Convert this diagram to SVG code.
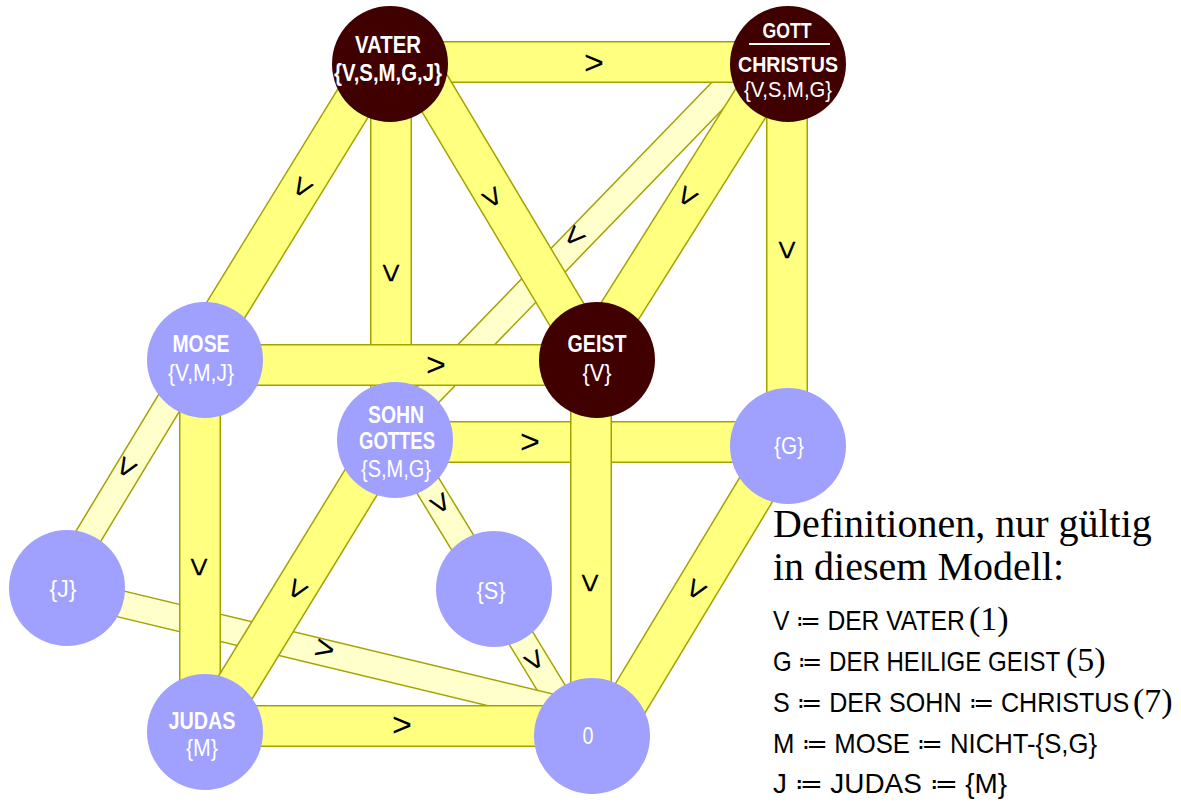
<svg xmlns="http://www.w3.org/2000/svg" width="1181" height="802" viewBox="0 0 1181 802">
<style>
.po{stroke:#a3a300;stroke-width:28;fill:none}
.pi{stroke:#ffffcc;stroke-width:25;fill:none}
.mo{stroke:#a3a300;stroke-width:42;fill:none}
.mi{stroke:#ffff80;stroke-width:39;fill:none}
.lbl{font-family:"Liberation Sans",Arial,sans-serif;font-size:34px;fill:#000;text-anchor:middle;dominant-baseline:central}
.dark{fill:#400000}
.light{fill:#a0a0ff}
.nt{font-family:"Liberation Sans",Arial,sans-serif;font-size:24px;fill:#fff;text-anchor:middle}
.sm{font-size:22px}
.b{font-weight:bold}
.ser{font-family:"Liberation Serif","Times New Roman",serif}
.mono{font-family:"Liberation Sans",Arial,sans-serif;font-size:28px}
.def{fill:#000}
</style>
<rect width="1181" height="802" fill="#fff"/>
<g id="connectors">
  <line class="po" x1="749" y1="63" x2="384" y2="440"/><line class="pi" x1="749" y1="63" x2="384" y2="440"/>
  <line class="po" x1="195" y1="360" x2="57" y2="588"/><line class="pi" x1="195" y1="360" x2="57" y2="588"/>
  <line class="po" x1="400" y1="440" x2="491" y2="589"/><line class="pi" x1="400" y1="440" x2="491" y2="589"/>
  <line class="po" x1="491" y1="589" x2="580" y2="735"/><line class="pi" x1="491" y1="589" x2="580" y2="735"/>
  <line class="po" x1="67" y1="591" x2="592" y2="717"/><line class="pi" x1="67" y1="591" x2="592" y2="717"/>
  <line class="mo" x1="391" y1="64" x2="391" y2="440"/><line class="mi" x1="391" y1="64" x2="391" y2="440"/>
  <line class="mo" x1="395" y1="442" x2="788" y2="442"/><line class="mi" x1="395" y1="442" x2="788" y2="442"/>
  <line class="mo" x1="390" y1="62" x2="788" y2="62"/><line class="mi" x1="390" y1="62" x2="788" y2="62"/>
  <line class="mo" x1="377" y1="64" x2="195" y2="360"/><line class="mi" x1="377" y1="64" x2="195" y2="360"/>
  <line class="mo" x1="417" y1="64" x2="594" y2="360"/><line class="mi" x1="417" y1="64" x2="594" y2="360"/>
  <line class="mo" x1="776" y1="63" x2="589" y2="360"/><line class="mi" x1="776" y1="63" x2="589" y2="360"/>
  <line class="mo" x1="787" y1="63" x2="787" y2="445"/><line class="mi" x1="787" y1="63" x2="787" y2="445"/>
  <line class="mo" x1="205" y1="365" x2="597" y2="365"/><line class="mi" x1="205" y1="365" x2="597" y2="365"/>
  <line class="mo" x1="200" y1="360" x2="200" y2="732"/><line class="mi" x1="200" y1="360" x2="200" y2="732"/>
  <line class="mo" x1="387" y1="440" x2="208" y2="732"/><line class="mi" x1="387" y1="440" x2="208" y2="732"/>
  <line class="mo" x1="591" y1="360" x2="591" y2="735"/><line class="mi" x1="591" y1="360" x2="591" y2="735"/>
  <line class="mo" x1="783" y1="445" x2="608" y2="735"/><line class="mi" x1="783" y1="445" x2="608" y2="735"/>
  <line class="mo" x1="205" y1="726" x2="592" y2="726"/><line class="mi" x1="205" y1="726" x2="592" y2="726"/>
  <text class="lbl" transform="translate(594,62)">&gt;</text>
  <text class="lbl" transform="translate(303,188) rotate(121.6)">&gt;</text>
  <text class="lbl" transform="translate(392,273) rotate(90)">&gt;</text>
  <text class="lbl" transform="translate(493,197) rotate(59.1)">&gt;</text>
  <text class="lbl" transform="translate(688,197) rotate(122.2)">&gt;</text>
  <text class="lbl" transform="translate(788,250) rotate(90)">&gt;</text>
  <text class="lbl" transform="translate(436,364)">&gt;</text>
  <text class="lbl" transform="translate(200,567) rotate(90)">&gt;</text>
  <text class="lbl" transform="translate(530,441)">&gt;</text>
  <text class="lbl" transform="translate(298,590) rotate(121.5)">&gt;</text>
  <text class="lbl" transform="translate(591,583) rotate(90)">&gt;</text>
  <text class="lbl" transform="translate(697,590) rotate(121.1)">&gt;</text>
  <text class="lbl" transform="translate(402,724)">&gt;</text>
  <text class="lbl" transform="translate(575,237) rotate(134.1)">&gt;</text>
  <text class="lbl" transform="translate(127,468) rotate(121.2)">&gt;</text>
  <text class="lbl" transform="translate(441,503) rotate(58.6)">&gt;</text>
  <text class="lbl" transform="translate(535,660) rotate(58.6)">&gt;</text>
  <text class="lbl" transform="translate(325,648) rotate(13.5)">&gt;</text>
</g>
<g id="vater">
  <circle class="dark" cx="390" cy="64" r="58"/>
  <text class="nt b" x="388" y="53" textLength="66" lengthAdjust="spacingAndGlyphs">VATER</text>
  <text class="nt b" x="388" y="81" textLength="108" lengthAdjust="spacingAndGlyphs">{V,S,M,G,J}</text>
</g>
<g id="gott">
  <circle class="dark" cx="788" cy="64" r="58"/>
  <text class="nt sm b" x="787" y="38" textLength="49" lengthAdjust="spacingAndGlyphs">GOTT</text>
  <line x1="749" y1="44" x2="830" y2="44" stroke="#fff" stroke-width="2"/>
  <text class="nt sm b" x="788" y="72" textLength="100" lengthAdjust="spacingAndGlyphs">CHRISTUS</text>
  <text class="nt sm" x="788" y="97" textLength="88" lengthAdjust="spacingAndGlyphs">{V,S,M,G}</text>
</g>
<g id="mose">
  <circle class="light" cx="205" cy="360" r="58"/>
  <text class="nt b" x="201" y="352" textLength="57" lengthAdjust="spacingAndGlyphs">MOSE</text>
  <text class="nt" x="201" y="381" textLength="66" lengthAdjust="spacingAndGlyphs">{V,M,J}</text>
</g>
<g id="geist">
  <circle class="dark" cx="597" cy="360" r="58"/>
  <text class="nt b" x="597" y="352" textLength="59" lengthAdjust="spacingAndGlyphs">GEIST</text>
  <text class="nt" x="597" y="381" textLength="29" lengthAdjust="spacingAndGlyphs">{V}</text>
</g>
<g id="sohn">
  <circle class="light" cx="395" cy="440" r="58"/>
  <text class="nt b" x="396" y="423" textLength="56" lengthAdjust="spacingAndGlyphs">SOHN</text>
  <text class="nt b" x="397" y="449" textLength="76" lengthAdjust="spacingAndGlyphs">GOTTES</text>
  <text class="nt" x="396" y="477" textLength="70" lengthAdjust="spacingAndGlyphs">{S,M,G}</text>
</g>
<g id="g">
  <circle class="light" cx="788" cy="446" r="58"/>
  <text class="nt" x="789" y="454" textLength="30" lengthAdjust="spacingAndGlyphs">{G}</text>
</g>
<g id="j">
  <circle class="light" cx="67" cy="588" r="58"/>
  <text class="nt" x="63" y="597" textLength="27" lengthAdjust="spacingAndGlyphs">{J}</text>
</g>
<g id="s">
  <circle class="light" cx="494" cy="589" r="58"/>
  <text class="nt" x="491" y="599" textLength="29" lengthAdjust="spacingAndGlyphs">{S}</text>
</g>
<g id="judas">
  <circle class="light" cx="205" cy="732" r="58"/>
  <text class="nt b" x="202" y="729" textLength="67" lengthAdjust="spacingAndGlyphs">JUDAS</text>
  <text class="nt" x="202" y="756" textLength="32" lengthAdjust="spacingAndGlyphs">{M}</text>
</g>
<g id="null">
  <circle class="light" cx="592" cy="736" r="58"/>
  <text class="nt" x="588" y="744" textLength="11" lengthAdjust="spacingAndGlyphs">0</text>
</g>
<g id="definitionen">
  <text class="ser def" x="773" y="537" font-size="40">Definitionen, nur gültig</text>
  <text class="ser def" x="773" y="580" font-size="40">in diesem Modell:</text>
  <text class="def mono" transform="translate(773,630) scale(0.88,1)">V ≔ DER VATER</text>
  <text class="def ser" x="969" y="630" font-size="34">(1)</text>
  <text class="def mono" transform="translate(773,671) scale(0.859,1)">G ≔ DER HEILIGE GEIST</text>
  <text class="def ser" x="1066" y="671" font-size="34">(5)</text>
  <text class="def mono" transform="translate(773,712) scale(0.896,1)">S ≔ DER SOHN ≔ CHRISTUS</text>
  <text class="def ser" x="1133" y="712" font-size="34">(7)</text>
  <text class="def mono" x="773" y="753" textLength="324" lengthAdjust="spacingAndGlyphs">M ≔ MOSE ≔ NICHT-{S,G}</text>
  <text class="def mono" x="773" y="793" textLength="234" lengthAdjust="spacingAndGlyphs">J ≔ JUDAS ≔ {M}</text>
</g>
</svg>
